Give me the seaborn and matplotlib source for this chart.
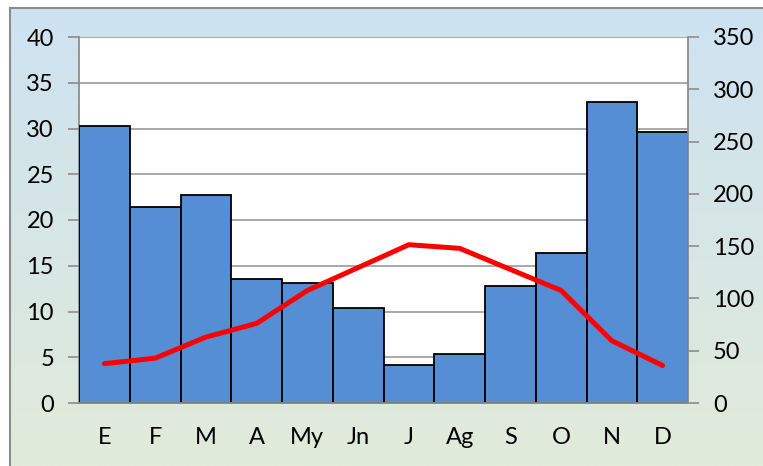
import numpy as np
import pandas as pd
import matplotlib
matplotlib.use('Agg')
import matplotlib.pyplot as plt
import seaborn as sns

# climograph data: temperature (left axis, line) and precipitation (right axis, bars)
months = ['E', 'F', 'M', 'A', 'My', 'Jn', 'J', 'Ag', 'S', 'O', 'N', 'D']
temperature = [4.3, 4.9, 7.2, 8.7, 12.3, 14.8, 17.3, 16.9, 14.6, 12.3, 6.8, 4.1]
precipitation = [265, 187, 199, 119, 115, 91, 36, 47, 112, 143, 288, 259]
temp_ticks = [0, 5, 10, 15, 20, 25, 30, 35, 40]
prec_ticks = [0, 50, 100, 150, 200, 250, 300, 350]

df = pd.DataFrame({'mes': months, 'idx': np.arange(len(months)),
                   'temp': temperature, 'prec': precipitation})

sns.set_style('white')
plt.rcParams['font.family'] = ['Lato', 'DejaVu Sans']
plt.rcParams['font.size'] = 17

fig = plt.figure(figsize=(7.63, 4.66), dpi=100)
fig.patch.set_facecolor('white')

# gradient chart area with border on left/top
bg = fig.add_axes([10 / 763, 0, 1 - 10 / 763, 1 - 8 / 466])
grad = np.linspace(0, 1, 256)[:, None]
cmap = matplotlib.colors.LinearSegmentedColormap.from_list('bg', ['#cde2f1', '#e1ebda'])
bg.imshow(grad, aspect='auto', cmap=cmap, extent=[0, 1, 0, 1])
bg.set_xticks([])
bg.set_yticks([])
for s in ['right', 'bottom']:
    bg.spines[s].set_visible(False)
for s in ['left', 'top']:
    bg.spines[s].set_color('#8c8c8c')
    bg.spines[s].set_linewidth(1.5)

rect = [79 / 763, (466 - 403) / 466, 609 / 763, 366 / 466]
ax = fig.add_axes(rect)
ax.set_facecolor('white')
ax.set_ylim(0, 40)
ax.set_yticks(temp_ticks)
ax.yaxis.grid(True, color='#9a9a9a', linewidth=1.2)
ax.set_axisbelow(True)

ax2 = ax.twinx()
sns.barplot(data=df, x='mes', y='prec', ax=ax2, width=1.0, color='#558ed5',
            saturation=1, edgecolor='black', linewidth=1.3)
ax2.set_ylim(0, 350)
ax2.set_yticks(prec_ticks)

ax3 = ax.twinx()
sns.lineplot(data=df, x='idx', y='temp', ax=ax3, color='#ff0000', linewidth=3.6,
             solid_capstyle='round')
ax3.set_ylim(0, 40)
ax3.set_yticks([])
ax3.set_ylabel('')
for s in ax3.spines.values():
    s.set_visible(False)

ax.set_xlim(-0.5, len(months) - 0.5)
ax.set_xticks(np.arange(len(months)))
ax.set_xticklabels(months)
ax.set_xticks(np.arange(-0.5, len(months)), minor=True)
ax.tick_params(axis='x', which='major', length=0, pad=17, labelsize=17, labelcolor='black')
ax.tick_params(axis='x', which='minor', length=7, width=1.2, color='#8c8c8c', direction='out')
ax.tick_params(axis='y', length=8, width=1.2, color='#8c8c8c', direction='out', pad=10,
               labelsize=17, labelcolor='black')
ax2.tick_params(axis='y', length=8, width=1.2, color='#8c8c8c', direction='out', pad=10,
                labelsize=17, labelcolor='black')
ax.set_xlabel('')
ax.set_ylabel('')
ax2.set_xlabel('')
ax2.set_ylabel('')

for a in [ax, ax2]:
    a.spines['top'].set_visible(False)
    for s in ['left', 'right', 'bottom']:
        a.spines[s].set_color('#8c8c8c')
        a.spines[s].set_linewidth(1.3)
ax.spines['right'].set_visible(False)
ax2.spines['left'].set_visible(False)

fig.savefig('out.png', dpi=100)
